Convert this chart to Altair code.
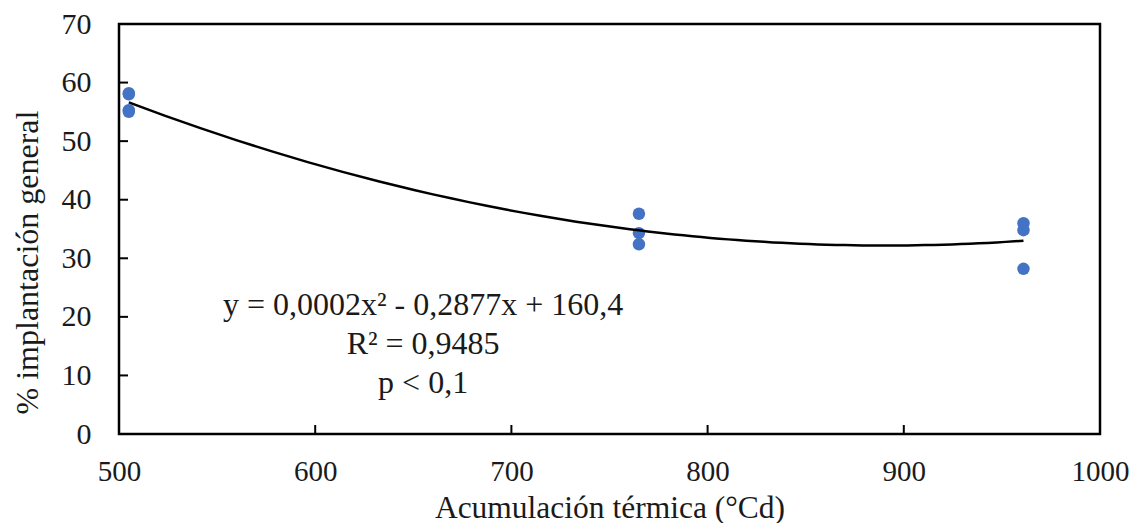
import altair as alt
import pandas as pd

# Data
x_vals = [505, 505, 505, 505, 765, 765, 765, 961, 961, 961]
y_vals = [58.2, 58.0, 55.3, 55.0, 37.6, 34.3, 32.4, 36.0, 34.8, 28.2]

x_ticks = [600, 700, 800, 900]
y_ticks = [10, 20, 30, 40, 50, 60]

annotation_lines = ["y = 0,0002x² - 0,2877x + 160,4", "R² = 0,9485", "p < 0,1"]

FONT = "Liberation Serif"
W, H = 981, 410

pts = pd.DataFrame({"x": x_vals, "y": y_vals})
xt = pd.DataFrame({"x": x_ticks})
yt = pd.DataFrame({"y": y_ticks})

xscale = alt.Scale(domain=[500, 1000], nice=False, zero=False)
yscale = alt.Scale(domain=[0, 70], nice=False)

xaxis = alt.Axis(
    values=[500, 600, 700, 800, 900, 1000], format="d", grid=False, ticks=False, tickSize=0,
    domain=False, labelFont=FONT, labelFontSize=29, labelColor="#1a1a1a",
    labelBaseline="alphabetic", labelPadding=46, labelFlush=False, labelOverlap=False,
    title="Acumulación térmica (°Cd)", titleFont=FONT, titleFontSize=31.5,
    titleFontWeight="normal", titleColor="#1a1a1a", titleBaseline="alphabetic",
    titleY=83,
)
yaxis = alt.Axis(
    values=[0, 10, 20, 30, 40, 50, 60, 70], format="d", grid=False, ticks=False, tickSize=0,
    domain=False, labelFont=FONT, labelFontSize=30, labelColor="#1a1a1a",
    labelPadding=28, labelFlush=False, labelOverlap=False,
    title="% implantación general", titleFont=FONT, titleFontSize=32,
    titleFontWeight="normal", titleColor="#1a1a1a", titleAngle=270,
    titleAlign="center", titleBaseline="middle", titleX=-92, titleY=238,
)

points = alt.Chart(pts).mark_circle(size=155, color="#4472C4", opacity=1).encode(
    x=alt.X("x:Q", scale=xscale, axis=xaxis),
    y=alt.Y("y:Q", scale=yscale, axis=yaxis),
)

trend = alt.Chart(pts).transform_regression(
    "x", "y", method="poly", order=2
).mark_line(color="black", strokeWidth=2.5).encode(
    x=alt.X("x:Q", scale=xscale, axis=xaxis),
    y=alt.Y("y:Q", scale=yscale, axis=yaxis),
)

xtick_marks = alt.Chart(xt).mark_rule(color="black", strokeWidth=2).encode(
    x=alt.X("x:Q", scale=xscale, axis=xaxis),
    y=alt.value(H),
    y2=alt.value(H - 9),
)
ytick_marks = alt.Chart(yt).mark_rule(color="black", strokeWidth=2).encode(
    y=alt.Y("y:Q", scale=yscale, axis=yaxis),
    x=alt.value(0),
    x2=alt.value(9),
)

label = alt.Chart(pd.DataFrame({"a": [0]})).mark_text(
    text=annotation_lines, font=FONT, fontSize=32, color="#1a1a1a",
    align="center", baseline="middle", lineHeight=39,
).encode(
    x=alt.datum(655, scale=xscale),
    y=alt.datum(22.0, scale=yscale),
)

chart = alt.layer(points, trend, xtick_marks, ytick_marks, label).properties(
    width=W, height=H,
    background="white",
    autosize=alt.AutoSizeParams(type="none"),
    padding={"left": 111, "top": 16, "right": 29, "bottom": 89},
).configure_view(
    stroke="black", strokeWidth=2.5
)

chart.save("out.html", embed_options={"renderer": "svg", "actions": False})
